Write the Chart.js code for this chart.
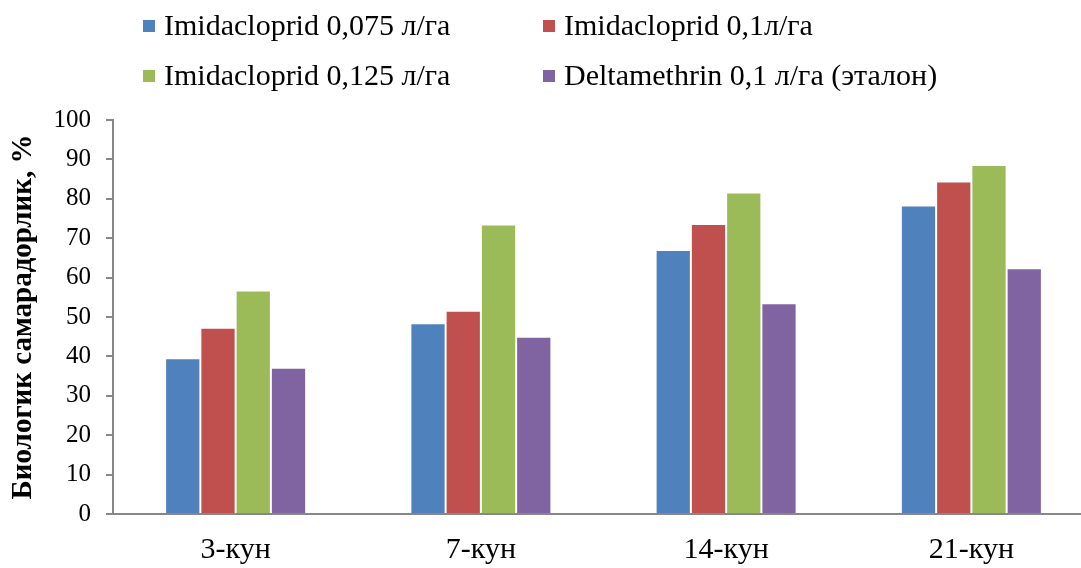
<!DOCTYPE html>
<html>
<head>
<meta charset="utf-8">
<script src="https://cdn.jsdelivr.net/npm/chart.js@4"></script>
<style>
  html, body { margin: 0; padding: 0; background: #fff; overflow: hidden; }
  #wrap { position: relative; width: 1081px; height: 568px; overflow: hidden; }
  #chart { position: absolute; left: 0; top: 0; }
  .leg { position: absolute; font-family: "Liberation Serif", "Times New Roman", serif; font-size: 30px; color: #000; white-space: nowrap; line-height: 1; }
  .leg i { display: inline-block; width: 12px; height: 12px; margin-right: 9px; vertical-align: 3px; }
</style>
</head>
<body>
<div id="wrap">
  <canvas id="chart" width="1100" height="568"></canvas>
  <div id="legend"></div>
</div>
<script>
// Days after treatment
const categories = ['3-кун', '7-кун', '14-кун', '21-кун'];

// Biological efficacy, %
const imida075 = [39.5, 48.4, 67.0, 78.3];
const imida01 = [47.3, 51.6, 73.6, 84.4];
const imida0125 = [56.7, 73.5, 81.6, 88.6];
const delta01 = [37.1, 45.0, 53.5, 62.4];

const seriesNames = [
  'Imidacloprid 0,075 л/га',
  'Imidacloprid 0,1л/га',
  'Imidacloprid 0,125 л/га',
  'Deltamethrin 0,1 л/га (эталон)'
];
const seriesColors = ['#4F81BD', '#C0504D', '#9BBB59', '#8064A2'];
const seriesValues = [imida075, imida01, imida0125, delta01];

const yTicks = [0, 10, 20, 30, 40, 50, 60, 70, 80, 90, 100];
const yTitle = 'Биологик самарадорлик, %';

const font = '"Liberation Serif", "Times New Roman", serif';

// Two-column legend above the plot
const legendPos = [[143, 10], [543, 10], [143, 60], [543, 60]];
const legend = document.getElementById('legend');
seriesNames.forEach((name, i) => {
  const d = document.createElement('div');
  d.className = 'leg';
  d.style.left = legendPos[i][0] + 'px';
  d.style.top = legendPos[i][1] + 'px';
  d.innerHTML = '<i style="background:' + seriesColors[i] + '"></i>';
  d.appendChild(document.createTextNode(name));
  legend.appendChild(d);
});

new Chart(document.getElementById('chart'), {
  type: 'bar',
  data: {
    labels: categories,
    datasets: seriesNames.map((name, i) => ({
      label: name,
      data: seriesValues[i],
      backgroundColor: seriesColors[i],
      borderColor: 'rgba(255,255,255,0.45)',
      borderWidth: 1,
      categoryPercentage: 0.575,
      barPercentage: 1.0
    }))
  },
  options: {
    responsive: false,
    animation: false,
    layout: { padding: { top: 120, right: 6, left: 0, bottom: 0 } },
    plugins: {
      legend: { display: false },
      tooltip: { enabled: false }
    },
    scales: {
      x: {
        afterFit: (axis) => { axis.height = 54; },
        grid: { display: false, drawTicks: false },
        border: { display: true, color: '#878787', width: 2 },
        ticks: {
          color: '#000',
          font: { family: font, size: 30 },
          padding: 18
        }
      },
      y: {
        min: 0,
        max: 100,
        afterFit: (axis) => { axis.width = 113; },
        afterBuildTicks: (axis) => { axis.ticks = yTicks.map(v => ({ value: v })); },
        grid: {
          drawOnChartArea: false,
          drawTicks: true,
          tickLength: 7,
          color: '#878787',
          lineWidth: 2
        },
        border: { display: true, color: '#878787', width: 2 },
        ticks: {
          color: '#000',
          font: { family: font, size: 25 },
          padding: 15
        },
        title: {
          display: true,
          text: yTitle,
          color: '#000',
          font: { family: font, size: 29, weight: 'bold' },
          padding: { top: 6, bottom: 0 }
        }
      }
    }
  }
});
</script>
</body>
</html>
